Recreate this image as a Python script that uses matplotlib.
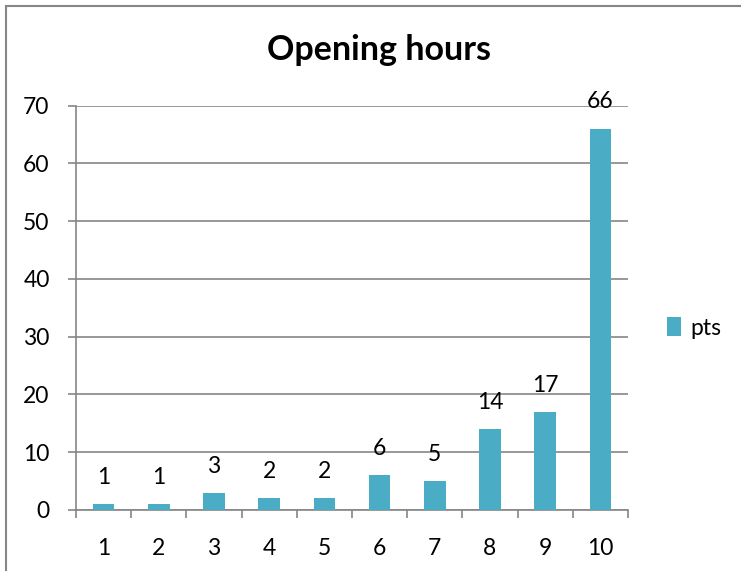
import matplotlib
matplotlib.use('Agg')
import matplotlib.pyplot as plt
from matplotlib.patches import Rectangle

categories = ['1', '2', '3', '4', '5', '6', '7', '8', '9', '10']
pts = [1, 1, 3, 2, 2, 6, 5, 14, 17, 66]
yticks = [0, 10, 20, 30, 40, 50, 60, 70]

bar_color = '#4BACC6'
grey = '#868686'
fsize = 16.5
plt.rcParams['font.family'] = ['Lato', 'DejaVu Sans']

fig = plt.figure(figsize=(7.41, 5.71), dpi=100)
# outer chart border
fig.patches.append(Rectangle((6 / 741, -0.1), 1.2, 1 - 6 / 571 + 0.1,
                             transform=fig.transFigure, fill=False,
                             edgecolor=grey, linewidth=1.5))

ax = fig.add_axes([76 / 741, 1 - 510 / 571, 552 / 741, 404.5 / 571])
x = list(range(len(categories)))
bars = ax.bar(x, pts, width=0.39, color=bar_color, label='pts', zorder=3)
for xi, v in zip(x, pts):
    ax.annotate(str(v), (xi, v), xytext=(0, 14.5), textcoords='offset points',
                ha='center', va='baseline', fontsize=fsize)

ax.set_xlim(-0.5, len(categories) - 0.5)
ax.set_ylim(0, 70)
ax.set_yticks(yticks)
ax.yaxis.grid(True, color=grey, linewidth=1.2, zorder=0)
ax.set_axisbelow(True)

# category boundaries carry the x ticks, labels sit at the centres
ax.set_xticks([i - 0.5 for i in range(len(categories) + 1)])
ax.set_xticklabels([])
ax.set_xticks(x, minor=True)
ax.set_xticklabels(categories, minor=True)
ax.tick_params(axis='x', which='major', length=6, width=1.2, color=grey)
ax.tick_params(axis='x', which='minor', length=0, pad=20, labelsize=fsize)
ax.tick_params(axis='y', length=6, width=1.2, color=grey, pad=13, labelsize=fsize)

for s in ['top', 'right']:
    ax.spines[s].set_visible(False)
for s in ['left', 'bottom']:
    ax.spines[s].set_color(grey)
    ax.spines[s].set_linewidth(1.2)

fig.text(379 / 741, 1 - 50 / 571, 'Opening hours', ha='center', va='center',
         fontsize=24.5, fontweight='bold')

fig.legend(handles=[bars], labels=['pts'], loc='center left',
           bbox_to_anchor=(667 / 741, 1 - 328 / 571), frameon=False,
           borderpad=0, borderaxespad=0,
           fontsize=fsize, handlelength=0.62, handleheight=0.85, handletextpad=0.4)

fig.savefig('out.png', dpi=100)
